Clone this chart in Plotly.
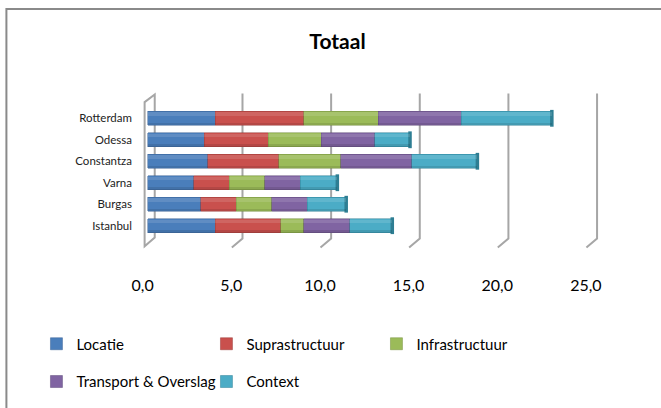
import plotly.graph_objects as go

# Ports (top to bottom) and the five score components per port
ports = ["Rotterdam", "Odessa", "Constantza", "Varna", "Burgas", "Istanbul"]
locatie = [3.8, 3.2, 3.4, 2.6, 3.0, 3.8]
suprastructuur = [5.0, 3.6, 4.0, 2.0, 2.0, 3.7]
infrastructuur = [4.2, 3.0, 3.5, 2.0, 2.0, 1.3]
transport_overslag = [4.7, 3.0, 4.0, 2.0, 2.0, 2.6]
context = [5.1, 2.0, 3.7, 2.1, 2.2, 2.4]

x_ticks = [0, 5, 10, 15, 20, 25]

series = [
    ("Locatie", locatie, "#4A7EBB", "#3A6296", "legend"),
    ("Suprastructuur", suprastructuur, "#C9504D", "#9A3B39", "legend"),
    ("Infrastructuur", infrastructuur, "#9BBB59", "#76903F", "legend"),
    ("Transport & Overslag", transport_overslag, "#8064A2", "#5F4A7A", "legend2"),
    ("Context", context, "#4BACC6", "#2F8298", "legend2"),
]

W, H = 661, 408
X_RANGE = [-0.6, 28.9]
PX_PER_UNIT = 17.7
ZERO_PX = 148.0
L = ZERO_PX - (0 - X_RANGE[0]) * PX_PER_UNIT
PLOT_W = (X_RANGE[1] - X_RANGE[0]) * PX_PER_UNIT
R = W - L - PLOT_W
ROW = 22.8
TOP = 115 - ROW / 2
BOTTOM = TOP + ROW * len(ports)
B = H - BOTTOM
PLOT_H = BOTTOM - TOP
BAR_W = 0.66


def px_to_paper_x(px):
    return (px - L) / PLOT_W


def px_to_paper_y(py):
    return (BOTTOM - py) / PLOT_H


fig = go.Figure()
for name, vals, color, edge, leg in series:
    fig.add_trace(go.Bar(
        y=ports, x=vals, name=name, orientation="h",
        marker=dict(color=color, line=dict(color=edge, width=0.5)),
        width=BAR_W, legend=leg,
    ))

# cylinder shading: soft light band near the top, soft dark band along the
# bottom, each stacked on its own overlaid axis so the bands follow the segments
for axis, shade, w, off in [
    ("y2", "rgba(255,255,255,0.12)", 0.16, -BAR_W / 2 + 0.05),
    ("y3", "rgba(0,0,0,0.10)", 0.12, BAR_W / 2 - 0.12),
]:
    for _, svals, _, _, _ in series:
        fig.add_trace(go.Bar(
            y=ports, x=svals, orientation="h", yaxis=axis,
            marker=dict(color=shade, line=dict(width=0)),
            width=w, offset=off, showlegend=False, hoverinfo="skip",
        ))

# end cap of each cylinder at the total score
totals = [sum(parts) for parts in zip(*[s[1] for s in series])]
fig.add_trace(go.Scatter(
    y=ports, x=totals, mode="markers", showlegend=False, hoverinfo="skip",
    cliponaxis=False,
    marker=dict(symbol="line-ns", size=12, line=dict(width=3.5, color="#2E7E93")),
))

shapes = []
# depth walls: back line, floor slant for every gridline
for v in x_ticks[1:]:
    bx, fx = v + 0.35, v - 0.25
    shapes.append(dict(
        type="path", xref="x", yref="paper", layer="below",
        path=f"M {bx},{px_to_paper_y(93)} L {bx},{px_to_paper_y(239)} "
             f"L {fx},{px_to_paper_y(248)}",
        line=dict(color="#A6A6A6", width=2),
    ))
# left side wall
shapes.append(dict(
    type="path", xref="x", yref="paper", layer="below",
    path=f"M -0.17,{px_to_paper_y(101.7)} L 0.4,{px_to_paper_y(94)} "
         f"L 0.4,{px_to_paper_y(238)} L -0.17,{px_to_paper_y(246.7)} Z",
    line=dict(color="#A6A6A6", width=2),
))
# chart frame
shapes.append(dict(
    type="rect", xref="paper", yref="paper", layer="below",
    x0=px_to_paper_x(7), y0=px_to_paper_y(415),
    x1=px_to_paper_x(670), y1=px_to_paper_y(8),
    line=dict(color="#8A8A8A", width=2),
))

FONT = "Lato"
legend_common = dict(orientation="h", xanchor="left", yanchor="middle",
                     traceorder="normal", bgcolor="rgba(0,0,0,0)", entrywidth=125,
                     font=dict(family=FONT, size=15, color="black"))
fig.update_layout(
    width=W, height=H,
    margin=dict(l=L, r=R, t=TOP, b=B, pad=0),
    barmode="stack",
    paper_bgcolor="white", plot_bgcolor="rgba(0,0,0,0)",
    separators=",.",
    title=dict(text="<b>Totaal</b>", x=337.5 / W, xref="container", xanchor="center",
               y=1 - 42 / H, yref="container", yanchor="middle",
               font=dict(family=FONT, size=21, color="black")),
    xaxis=dict(range=X_RANGE, tickvals=x_ticks, tickformat=".1f",
               showgrid=False, zeroline=False, showline=False, ticks="",
               ticklabelshift=-5, ticklabelstandoff=34,
               tickfont=dict(family=FONT, size=16, color="black")),
    yaxis=dict(autorange="reversed", showgrid=False, zeroline=False, showline=False,
               ticks="", ticklabelstandoff=4,
               tickfont=dict(family=FONT, size=11.5, color="#222222")),
    yaxis2=dict(overlaying="y", matches="y", visible=False),
    yaxis3=dict(overlaying="y", matches="y", visible=False),
    legend=dict(x=px_to_paper_x(37), y=px_to_paper_y(345), **legend_common),
    legend2=dict(x=px_to_paper_x(37), y=px_to_paper_y(383), **legend_common),
    shapes=shapes,
    showlegend=True,
)

fig.write_html("out.html")
